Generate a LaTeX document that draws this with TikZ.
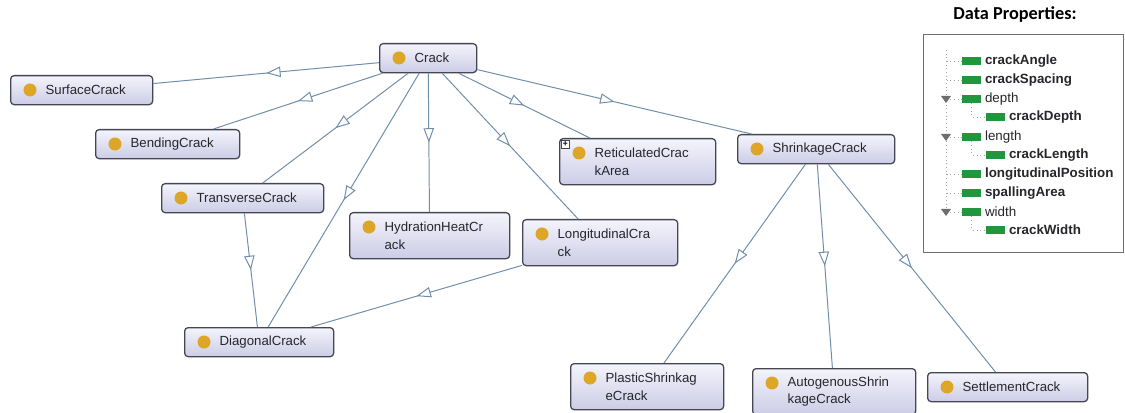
\documentclass[tikz,border=0pt]{standalone}
\usepackage{fontspec}
\setmainfont{Liberation Sans}
\newfontfamily\headfont{Carlito}
\usetikzlibrary{arrows.meta,decorations.markings}

\definecolor{owlgold}{RGB}{221,166,40}
\definecolor{owledge}{RGB}{112,142,170}
\definecolor{owlborder}{RGB}{70,70,82}
\definecolor{owltop}{RGB}{244,244,252}
\definecolor{owlbottom}{RGB}{204,204,230}
\definecolor{owltext}{RGB}{38,38,44}
\definecolor{propgreen}{RGB}{34,150,62}
\definecolor{treegray}{RGB}{165,165,165}
\definecolor{boxgray}{RGB}{110,110,110}

\tikzset{
  cls/.style={draw=owlborder, line width=0.9pt, rounded corners=2.5pt,
    top color=owltop, bottom color=owlbottom, anchor=north west,
    inner xsep=0.1cm, inner ysep=0pt, text width=#1, align=left,
    minimum height=0.725cm, text=owltext,
    font=\fontsize{9.4}{12.4}\selectfont,
    execute at begin node={\leftskip=0.775cm}},
  twoline/.style={minimum height=1.15cm},
  isa/.style={draw=owledge, line width=0.7pt, postaction={decorate},
    decoration={markings, mark=at position 0.5 with
      {\arrow{Triangle[open, fill=white, length=0.36cm, width=0.26cm]}}}},
  proprect/.style={fill=propgreen, minimum width=0.48cm, minimum height=0.21cm,
    inner sep=0pt, anchor=west},
  proptext/.style={anchor=west, inner sep=0pt, text=owltext,
    font=\fontsize{9.5}{11}\selectfont},
  treeline/.style={draw=treegray, dotted, line width=0.6pt},
}

\begin{document}
\begin{tikzpicture}[x=0.025cm, y=-0.025cm]
    \useasboundingbox (0,0) rectangle (1125,413);
    \fill[white] (0,0) rectangle (1125,413);

    % classes
    \node[cls=2.225cm] (crack) at (379,43) {Crack};
    \node[cls=3.35cm] (surface) at (10,75) {SurfaceCrack};
    \node[cls=3.4cm] (bending) at (95,129) {BendingCrack};
    \node[cls=3.85cm] (transverse) at (161,183) {TransverseCrack};
    \node[cls=3.8cm, twoline] (hydration) at (349,212) {HydrationHeatCr\\ack};
    \node[cls=3.675cm, twoline] (longitudinal) at (522,219) {LongitudinalCra\\ck};
    \node[cls=3.7cm, twoline] (reticulated) at (559,138) {ReticulatedCrac\\kArea};
    \node[cls=3.725cm] (shrinkage) at (737,134) {ShrinkageCrack};
    \node[cls=3.525cm] (diagonal) at (184,327) {DiagonalCrack};
    \node[cls=3.625cm, twoline] (plastic) at (570,363) {PlasticShrinkag\\eCrack};
    \node[cls=3.875cm, twoline] (autogenous) at (752,368) {AutogenousShrin\\kageCrack};
    \node[cls=3.8cm] (settlement) at (927,372) {SettlementCrack};

    \foreach \n in {crack,surface,bending,transverse,hydration,longitudinal,
                    reticulated,shrinkage,diagonal,plastic,autogenous,settlement}
        \fill[owlgold] ([shift={(20,15)}]\n.north west) circle (0.1625cm);

    \node[draw=owlborder, fill=white, line width=0.4pt, inner sep=0pt,
          minimum size=0.2cm, anchor=north west,
          font=\fontsize{6}{6}\selectfont\bfseries] (expand)
          at ([shift={(2,2)}]reticulated.north west) {+};

    % subclass links
    \draw[isa] (crack) -- (surface);
    \draw[isa] (crack) -- (bending);
    \draw[isa] (crack) -- (transverse);
    \draw[isa] (crack) -- (hydration);
    \draw[isa] (crack) -- (longitudinal);
    \draw[isa] (crack) -- (reticulated);
    \draw[isa] (crack) -- (shrinkage);
    \draw[isa] (crack) -- (diagonal);
    \draw[isa] (transverse) -- (diagonal);
    \draw[isa] (longitudinal) -- (diagonal);
    \draw[isa] (shrinkage) -- (plastic);
    \draw[isa] (shrinkage) -- (autogenous);
    \draw[isa] (shrinkage) -- (settlement);

    % data properties
    \node[font=\headfont\bfseries\fontsize{13}{15}\selectfont] (proptitle)
        at (1015,15) {Data Properties:};
    \draw[boxgray, line width=0.7pt] (923,34) rectangle (1123,252);

    \foreach \i/\y/\lv/\txt/\wt in {1/61/0/crackAngle/\bfseries,
            2/80/0/crackSpacing/\bfseries, 3/99/0/depth/\mdseries,
            4/117/1/crackDepth/\bfseries, 5/137/0/length/\mdseries,
            6/155/1/crackLength/\bfseries, 7/174/0/longitudinalPosition/\bfseries,
            8/193/0/spallingArea/\bfseries, 9/212/0/width/\mdseries,
            10/230/1/crackWidth/\bfseries}{
        \node[proprect] (r\i) at (962+24*\lv,\y) {};
        \node[proptext] (t\i) at ([shift={(3,0)}]r\i.east) {\wt\txt};
    }

    \draw[treeline] (946,50) -- (946,212);
    \foreach \i in {1,2,3,5,7,8,9}
        \draw[treeline] (r\i.west) -- +(-16,0);
    \foreach \i/\p in {4/3,6/5,10/9}
        \draw[treeline] (r\p.south) |- (r\i.west);
    \foreach \i in {3,5,9}
        \fill[boxgray] ([shift={(-21,-3)}]r\i.west) -- ([shift={(-11,-3)}]r\i.west)
            -- ([shift={(-16,4)}]r\i.west) -- cycle;
\end{tikzpicture}
\end{document}
